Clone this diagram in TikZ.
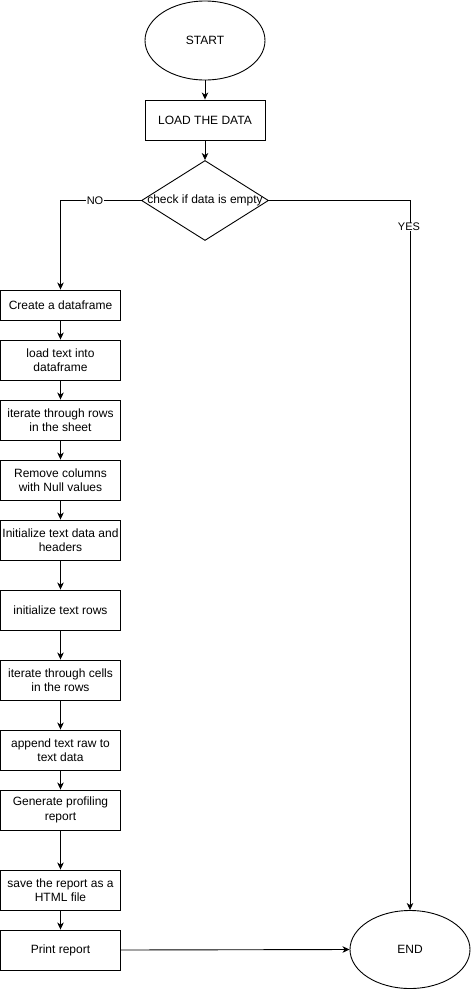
\documentclass[tikz,border=0pt]{standalone}
\usepackage{fontspec}
\setmainfont{Liberation Sans}
\usetikzlibrary{shapes.geometric,arrows.meta}
\begin{document}
\begin{tikzpicture}[x=1pt,y=-1pt,
  every node/.style={font=\fontsize{12}{14.4}\selectfont},
  box/.style={draw,line width=0.9pt,minimum width=120pt,inner sep=0pt,align=center},
  oval/.style={draw,ellipse,line width=0.9pt,minimum width=120pt,inner sep=0pt},
  arr/.style={line width=0.9pt,-{Stealth[length=7pt,width=6.5pt,inset=2pt]}},
  lbl/.style={fill=white,inner sep=0.5pt,font=\fontsize{11}{13}\selectfont}]
\useasboundingbox (0,0) rectangle (471,991);
\node[oval,minimum height=79pt] (start) at (205,40.5) {START};
\node[box,minimum height=40pt] (load) at (205,120) {LOAD THE DATA};
\node[draw,diamond,line width=0.9pt,minimum width=127pt,minimum height=80pt,inner sep=0pt] (dec) at (205,200.5) {};
\node (dectext) at (dec) {check if data is empty};
\node[box,minimum height=30pt] (create) at (60.5,305) {Create a dataframe};
\node[box,minimum height=40pt] (ltext) at (60.5,360) {load text into\\dataframe};
\node[box,minimum height=40pt] (irows) at (60.5,420) {iterate through rows\\in the sheet};
\node[box,minimum height=40pt] (remove) at (60.5,480) {Remove columns\\with Null values};
\node[box,minimum height=40pt] (inithead) at (60.5,540) {Initialize text data and\\headers};
\node[box,minimum height=40pt] (initrows) at (60.5,610) {initialize text rows};
\node[box,minimum height=40pt] (icells) at (60.5,680) {iterate through cells\\in the rows};
\node[box,minimum height=40pt] (append) at (60.5,750) {append text raw to\\text data};
\node[box,minimum height=40pt] (gen) at (60.5,810) {Generate profiling\\report};
\node[box,minimum height=40pt] (save) at (60.5,890) {save the report as a\\HTML file};
\node[box,minimum height=40pt] (print) at (60.5,950) {Print report};
\node[oval,minimum height=78pt] (end) at (410,949.5) {END};
\coordinate (nocorner) at (60.5,200.5);
\coordinate (yescorner) at (410,200.5);
\draw[arr] (start) -- (load);
\draw[arr] (load) -- (dec);
\draw[arr] (dec.west) -- (nocorner) -- (create.north);
\draw[arr] (dec.east) -- (yescorner) -- (end.north);
\node[lbl] (nolbl) at (95,200.5) {NO};
\node[lbl] (yeslbl) at (409,227) {YES};
\draw[arr] (create) -- (ltext);
\draw[arr] (ltext) -- (irows);
\draw[arr] (irows) -- (remove);
\draw[arr] (remove) -- (inithead);
\draw[arr] (inithead) -- (initrows);
\draw[arr] (initrows) -- (icells);
\draw[arr] (icells) -- (append);
\draw[arr] (append) -- (gen);
\draw[arr] (gen) -- (save);
\draw[arr] (save) -- (print);
\draw[arr] (print.east) -- (end.west);
\end{tikzpicture}
\end{document}
